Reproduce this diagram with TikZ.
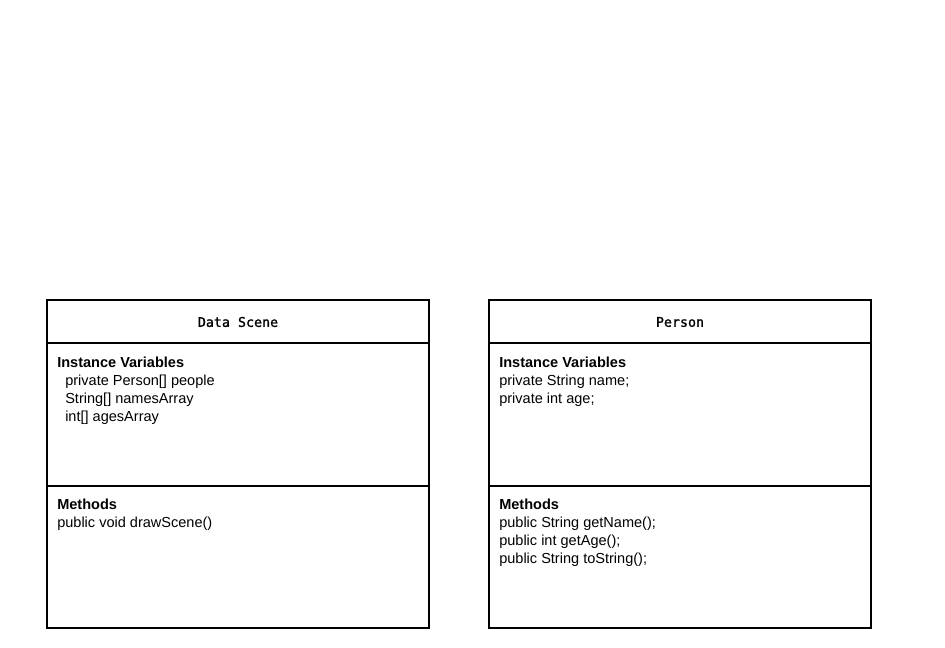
\documentclass[tikz,border=0pt]{standalone}
\usepackage{fontspec}
\setmainfont{Liberation Sans}
\newfontfamily\titlemono[FakeBold=1.2]{DejaVu Sans Mono}
\begin{document}
\begin{tikzpicture}[x=0.75pt,y=-0.75pt,
  part/.style={draw=black,line width=0.9pt,minimum width=286.5pt,inner sep=0pt,outer sep=0pt},
  titlebox/.style={part,minimum height=32.25pt},
  varbox/.style={part,minimum height=107.25pt},
  methbox/.style={part,minimum height=106.5pt},
  titletext/.style={font=\titlemono\fontsize{10}{12}\selectfont,inner sep=0pt},
  line/.style={anchor=base west,inner sep=0pt,font=\fontsize{10.9}{13}\selectfont},
  head/.style={line,font=\bfseries\fontsize{10.9}{13}\selectfont}]
\useasboundingbox[fill=white] (0,0) rectangle (945,648);
% Data Scene
\node[titlebox] (dsT) at (238,321.5) {};
\node[varbox] (dsV) at (238,414.5) {};
\node[methbox] (dsM) at (238,557) {};
\node[titletext] (dsTitle) at (238,322) {Data Scene};
\node[head] (dsVh) at (57,367) {Instance Variables};
\node[line] (dsV1) at (65,385) {private Person[] people};
\node[line] (dsV2) at (65,403) {String[] namesArray};
\node[line] (dsV3) at (65,421) {int[] agesArray};
\node[head] (dsMh) at (57,509) {Methods};
\node[line] (dsM1) at (57,527) {public void drawScene()};
% Person
\node[titlebox] (pT) at (680,321.5) {};
\node[varbox] (pV) at (680,414.5) {};
\node[methbox] (pM) at (680,557) {};
\node[titletext] (pTitle) at (680,322) {Person};
\node[head] (pVh) at (499,367) {Instance Variables};
\node[line] (pV1) at (499,385) {private String name;};
\node[line] (pV2) at (499,403) {private int age;};
\node[head] (pMh) at (499,509) {Methods};
\node[line] (pM1) at (499,527) {public String getName();};
\node[line] (pM2) at (499,545) {public int getAge();};
\node[line] (pM3) at (499,563) {public String toString();};
\end{tikzpicture}
\end{document}
